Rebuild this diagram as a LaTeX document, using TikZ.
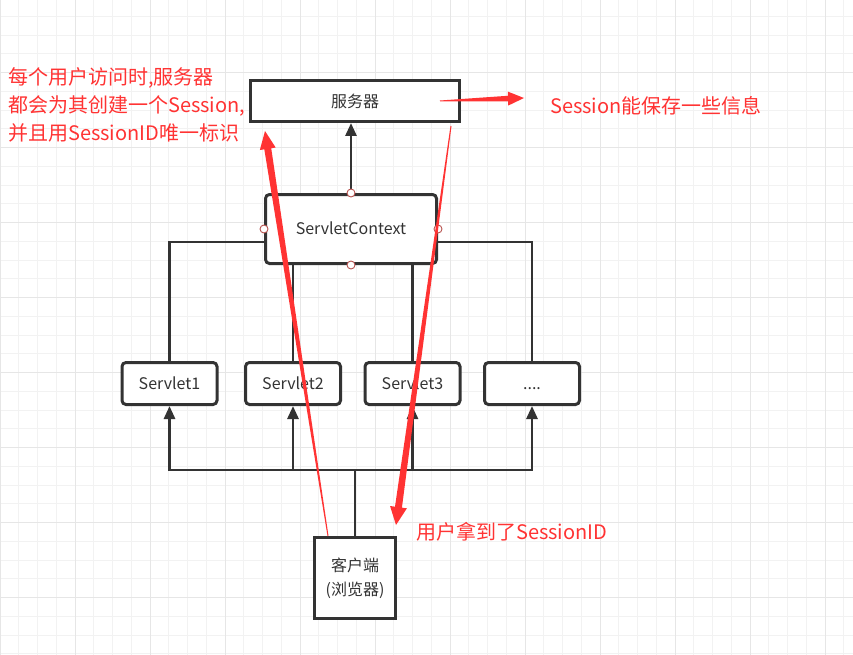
\documentclass[tikz,border=0pt]{standalone}
\usepackage{fontspec}
\setmainfont{Noto Sans CJK SC}
\usetikzlibrary{calc,arrows.meta}
\definecolor{boxline}{HTML}{333333}
\definecolor{sessred}{HTML}{FF3333}
\definecolor{portring}{HTML}{B85450}
\definecolor{gridminor}{HTML}{F2F2F2}
\definecolor{gridmajor}{HTML}{E6E6E6}
% tapered red arrow: (tail)(tip){head length}{head half width}{shaft half width}
\def\taperarrow(#1)(#2)#3#4#5{
	\coordinate (hb) at ($(#2)!#3!(#1)$);
	\fill[sessred] ($(#1)!0.5pt!90:(#2)$) -- ($(hb)!#5!-90:(#1)$) -- ($(hb)!#4!-90:(#1)$) -- (#2)
		-- ($(hb)!#4!90:(#1)$) -- ($(hb)!#5!90:(#1)$) -- ($(#1)!0.5pt!-90:(#2)$) -- cycle;
}
\tikzset{
	servbox/.style={draw=boxline, line width=3pt, fill=white, text=boxline, font=\fontsize{16}{19}\selectfont, inner sep=0pt},
	servround/.style={servbox, rounded corners=4pt, text height=12pt, text depth=0.3pt},
	link/.style={draw=boxline, line width=2.8pt},
	linkarrow/.style={link, -{Triangle[length=13pt,width=11pt]}},
	port/.style={circle, draw=portring, fill=white, line width=0.9pt, minimum size=8pt, inner sep=0pt},
	note/.style={text=sessred, font=\fontsize{20}{28}\selectfont, inner sep=0pt, anchor=west},
}

\begin{document}
\begin{tikzpicture}[x=1pt, y=-1pt]
			%%%%% START %%%%%
			\useasboundingbox (0,0) rectangle (853,655);
			\fill[white] (0,0) rectangle (853,655);
			
			% grid
			\foreach \i in {0,...,45}
				\draw[gridminor, line width=1pt] (\i*18.75,0) -- (\i*18.75,655);
			\foreach \j in {0,...,34}
				\draw[gridminor, line width=1pt] (0,16.45+\j*18.75) -- (853,16.45+\j*18.75);
			\foreach \i in {0,...,11}
				\draw[gridmajor, line width=1pt] (\i*75,0) -- (\i*75,655);
			\foreach \j in {0,...,8}
				\draw[gridmajor, line width=1pt] (0,-2.3+\j*75) -- (853,-2.3+\j*75);
			
			% boxes
			\node[servbox, minimum width=209pt, minimum height=41pt] (server) at (355,101) {服务器};
			\node[servround, minimum width=171pt, minimum height=69pt] (ctx) at (351,229) {ServletContext};
			
			\node[servround, minimum width=95pt, minimum height=42pt] (s1) at (169.5,383.5) {Servlet1};
			\node[servround, minimum width=95pt, minimum height=42pt] (s2) at (293,383.5) {Servlet2};
			\node[servround, minimum width=95pt, minimum height=42pt] (s3) at (412.5,383.5) {Servlet3};
			\node[servround, minimum width=95pt, minimum height=42pt] (more) at (532,383.5) {....};
			
			\node[servbox, minimum width=81pt, minimum height=81pt, align=center, font=\fontsize{16}{24}\selectfont] (client) at (355,578) {客户端\\(浏览器)};
			
			% links
			\draw[linkarrow] (ctx.north) -- (ctx.north |- server.south);
			\draw[link] (s1.north) |- ([yshift=-13pt]ctx.west);
			\draw[link] (more.north) |- ([yshift=-13pt]ctx.east);
			\draw[link] (s2.north) -- (s2.north |- ctx.south);
			\draw[link] (s3.north) -- (s3.north |- ctx.south);
			
			\coordinate (bus) at (355,470);
			\draw[link] (client.north) -- (bus);
			\foreach \s in {s1,s2,s3,more}
				\draw[linkarrow] (bus) -| (\s.south);
			
			\foreach \a in {north,south,west,east}
				\node[port] (port-\a) at (ctx.\a) {};
			
			% red notes
			\coordinate (asktail) at (328,536);
			\coordinate (asktip) at (265,131);
			\coordinate (idtail) at (451,126);
			\coordinate (idtip) at (396,525);
			\coordinate (savetail) at (440,101);
			\coordinate (savetip) at (524,98);
			\taperarrow(asktail)(asktip){18pt}{8pt}{3.5pt}
			\taperarrow(idtail)(idtip){18pt}{8.5pt}{3.5pt}
			\taperarrow(savetail)(savetip){16pt}{7pt}{2.8pt}
			
			\node[note, align=left] (newnote) at (8,105) {每个用户访问时,服务器\\都会为其创建一个Session,\\并且用SessionID唯一标识};
			\node[note] (savenote) at (550,106) {Session能保存一些信息};
			\node[note] (idnote) at (416,532) {用户拿到了SessionID};
			
			%%%%% END %%%%%
\end{tikzpicture}
\end{document}
